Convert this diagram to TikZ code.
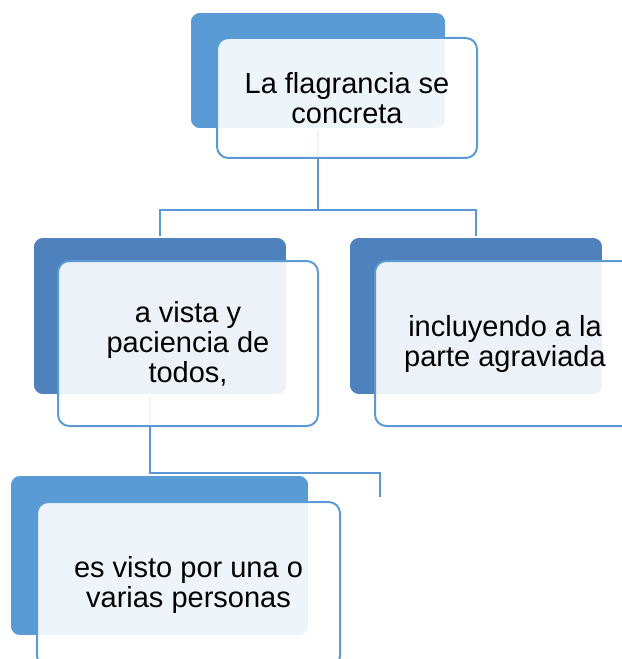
\documentclass[tikz,border=0pt]{standalone}
\usepackage{fontspec}
\setmainfont{Liberation Sans}
\pgfdeclarelayer{bg}
\pgfsetlayers{bg,main}
\newdimen\pxu \pxu=0.75pt
\definecolor{lightblue}{HTML}{5B9BD5}
\definecolor{darkblue}{HTML}{4F81BD}
\definecolor{edgeblue}{HTML}{5B9BD5}
\definecolor{linkblue}{HTML}{5B97D2}
\tikzset{
  x=0.75pt, y=-0.75pt,
  backbox/.style={rectangle, rounded corners=7.5pt, inner sep=0pt, outer sep=0pt,
    draw=white, line width=1.2pt},
  frontbox/.style={rectangle, rounded corners=8.5pt, inner sep=0pt, outer sep=0pt,
    draw=edgeblue, line width=1.5pt, fill=white, fill opacity=0.9, text opacity=1,
    align=center, font=\fontsize{21.75pt}{22.5pt}\selectfont, text=black},
  conn/.style={draw=linkblue, line width=1.5pt},
}
\begin{document}
\begin{tikzpicture}
\useasboundingbox (0,0) rectangle (621,659);
% top node
\node[backbox, fill=lightblue, minimum width=256\pxu, minimum height=117\pxu] (topB) at (318,70.5) {};
\node[frontbox, minimum width=260\pxu, minimum height=120\pxu] (topF) at (347,98) {La flagrancia se\\concreta};
% middle left
\node[backbox, fill=darkblue, minimum width=254\pxu, minimum height=158\pxu] (midLB) at (160,316) {};
\node[frontbox, minimum width=260\pxu, minimum height=165\pxu] (midLF) at (188,343.5) {a vista y\\paciencia de\\todos,};
% middle right
\node[backbox, fill=darkblue, minimum width=254\pxu, minimum height=158\pxu] (midRB) at (476,316) {};
\node[frontbox, minimum width=260\pxu, minimum height=165\pxu] (midRF) at (505,343.5) {incluyendo a la\\parte agraviada};
% bottom
\node[backbox, fill=lightblue, minimum width=299\pxu, minimum height=161\pxu] (botB) at (159.5,555.5) {};
\node[frontbox, minimum width=303\pxu, minimum height=165\pxu] (botF) at (188.5,584.5) {es visto por una o\\varias personas};
% connectors
\coordinate (j1) at (318,210);
\coordinate (k1) at (150,473);
\coordinate (k2) at (380,473);
\coordinate (k3) at (380,497);
\begin{pgfonlayer}{bg}
\draw[conn] (topB.south) -- (j1);
\draw[conn] (midLB.north) -- (midLB.north |- j1) -- (midRB.north |- j1) -- (midRB.north);
\draw[conn] (midLB.south -| k1) -- (k1) -- (k2) -- (k3);
\end{pgfonlayer}
\end{tikzpicture}
\end{document}
